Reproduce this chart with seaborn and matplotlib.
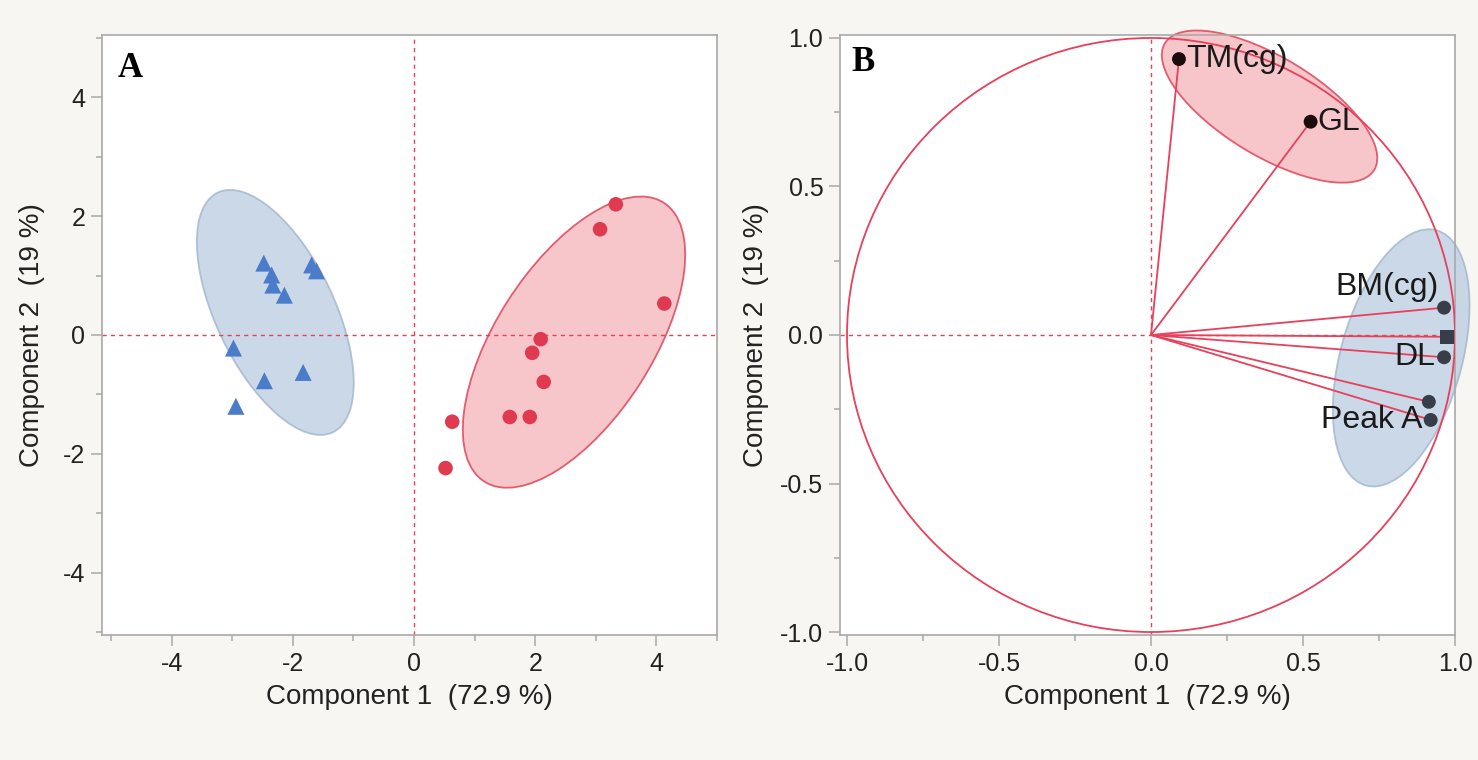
import numpy as np
import pandas as pd
import matplotlib
matplotlib.use('Agg')
import matplotlib.pyplot as plt
import seaborn as sns
from matplotlib.patches import Ellipse, Circle
from matplotlib.ticker import MultipleLocator, FormatStrFormatter

# score plot (panel A)
blue_c1 = [-2.48, -2.35, -2.33, -2.14, -1.69, -1.61, -2.98, -2.47, -1.83, -2.94]
blue_c2 = [1.21, 1.01, 0.84, 0.67, 1.18, 1.08, -0.22, -0.77, -0.63, -1.20]
red_c1 = [3.33, 3.07, 4.13, 2.09, 1.95, 2.14, 1.58, 1.91, 0.63, 0.52]
red_c2 = [2.20, 1.78, 0.53, -0.07, -0.30, -0.79, -1.38, -1.38, -1.46, -2.24]

# loading plot (panel B)
load_names = ['TM(cg)', 'GL', 'BM(cg)', 'sq', 'DL', 'pk2', 'Peak A']
load_labels = ['TM(cg)', 'GL', 'BM(cg)', '', 'DL', '', 'Peak A']
load_c1 = [0.092, 0.525, 0.964, 0.975, 0.964, 0.914, 0.92]
load_c2 = [0.929, 0.718, 0.092, -0.006, -0.075, -0.225, -0.286]
load_group = ['red', 'red', 'blue', 'blue', 'blue', 'blue', 'blue']
load_marker = ['o', 'o', 'o', 's', 'o', 'o', 'o']

# density ellipses: (center x, center y, width, height, angle)
ell_a_blue = (-2.29, 0.38, 4.46, 1.96, -65)
ell_a_red = (2.64, -0.12, 5.55, 2.59, 58)
ell_b_red = (0.39, 0.769, 0.81, 0.33, -32)
ell_b_blue = (0.823, -0.077, 0.89, 0.40, 75)

RED = '#e8405a'
BLUE_PT = '#4a7cc9'
RED_PT = '#df3a50'
BLUE_FILL = '#b9cbe0'
BLUE_EDGE = '#9db2cc'
RED_FILL = '#f4b3ba'
RED_EDGE = '#dc3046'
SPINE = '#a9a9a9'
TXT = '#222222'

sns.set_style('ticks')
plt.rcParams['font.family'] = ['Liberation Sans', 'DejaVu Sans']
plt.rcParams['axes.unicode_minus'] = False

fig = plt.figure(figsize=(14.78, 7.6), dpi=100, facecolor='#f7f6f2')
ax1 = fig.add_axes([102 / 1478, 125 / 760, 615 / 1478, 600 / 760])
ax2 = fig.add_axes([840 / 1478, 125 / 760, 615 / 1478, 600 / 760])


def add_ellipse(ax, p, fc, ec):
    cx, cy, w, h, ang = p
    ax.add_patch(Ellipse((cx, cy), w, h, angle=ang, facecolor=fc, edgecolor=ec,
                         alpha=0.75, lw=1.3, zorder=1, clip_on=False))


def style_axes(ax, major, minor, ypad=8):
    ax.set_facecolor('white')
    for sp in ax.spines.values():
        sp.set_color(SPINE)
        sp.set_linewidth(1.2)
    ax.xaxis.set_major_locator(MultipleLocator(major))
    ax.xaxis.set_minor_locator(MultipleLocator(minor))
    ax.yaxis.set_major_locator(MultipleLocator(major))
    ax.yaxis.set_minor_locator(MultipleLocator(minor))
    ax.tick_params(which='major', length=8, width=1.1, color=SPINE,
                   labelsize=18, labelcolor=TXT, pad=4)
    ax.tick_params(which='minor', length=4, width=1.1, color=SPINE)
    ax.axhline(0, color=RED, lw=1, dashes=(3, 3), zorder=2)
    ax.axvline(0, color=RED, lw=1, dashes=(3, 3), zorder=2)
    ax.set_xlabel('Component 1  (72.9 %)', fontsize=20, color=TXT, labelpad=6)
    ax.set_ylabel('Component 2  (19 %)', fontsize=20, color=TXT, labelpad=ypad)


# ---- panel A
scores = pd.DataFrame({
    'c1': blue_c1 + red_c1,
    'c2': blue_c2 + red_c2,
    'group': ['blue'] * len(blue_c1) + ['red'] * len(red_c1),
})
add_ellipse(ax1, ell_a_blue, BLUE_FILL, BLUE_EDGE)
add_ellipse(ax1, ell_a_red, RED_FILL, RED_EDGE)
sns.scatterplot(data=scores[scores.group == 'blue'], x='c1', y='c2', ax=ax1,
                marker='^', s=150, color=BLUE_PT, edgecolor='none', zorder=4)
sns.scatterplot(data=scores[scores.group == 'red'], x='c1', y='c2', ax=ax1,
                marker='o', s=110, color=RED_PT, edgecolor='none', zorder=4)
ax1.set_xlim(-5.15, 5.0)
ax1.set_ylim(-5.05, 5.05)
style_axes(ax1, 2, 1, ypad=13)
ax1.text(0.026, 0.972, 'A', transform=ax1.transAxes, va='top', ha='left',
         fontsize=25, fontweight='bold', family=['Liberation Serif'], color='black')

# ---- panel B
loads = pd.DataFrame({'name': load_names, 'label': load_labels, 'c1': load_c1,
                      'c2': load_c2, 'group': load_group, 'marker': load_marker})
add_ellipse(ax2, ell_b_red, RED_FILL, RED_EDGE)
add_ellipse(ax2, ell_b_blue, BLUE_FILL, BLUE_EDGE)
ax2.add_patch(Circle((0, 0), 1.0, facecolor='none', edgecolor=RED, lw=1.3, zorder=3))
for _, r in loads.iterrows():
    ax2.plot([0, r.c1], [0, r.c2], color=RED, lw=1.3, zorder=3)
sns.scatterplot(data=loads, x='c1', y='c2', hue='group', style='marker',
                markers={'o': 'o', 's': 's'}, palette={'red': '#1c0b0b', 'blue': '#373d49'},
                s=100, edgecolor='none', legend=False, ax=ax2, zorder=5, clip_on=False)

offsets = {'TM(cg)': (5, 0, 'left', 'center'), 'GL': (5, 0, 'left', 'center'),
           'BM(cg)': (-4, 4, 'right', 'bottom'), 'DL': (-6, 0, 'right', 'center'),
           'Peak A': (-6, 0, 'right', 'center')}
for _, r in loads.iterrows():
    if r.label:
        dx, dy, ha, va = offsets[r.label]
        ax2.annotate(r.label, (r.c1, r.c2), xytext=(dx, dy), textcoords='offset points',
                     ha=ha, va=va, fontsize=23, color='#1a1a1a', zorder=6)

ax2.set_xlim(-1.023, 1.0)
ax2.set_ylim(-1.01, 1.01)
style_axes(ax2, 0.5, 0.25)
ax2.xaxis.set_major_formatter(FormatStrFormatter('%.1f'))
ax2.yaxis.set_major_formatter(FormatStrFormatter('%.1f'))
ax2.text(0.019, 0.982, 'B', transform=ax2.transAxes, va='top', ha='left',
         fontsize=25, fontweight='bold', family=['Liberation Serif'], color='black')

# red tick at zero on x axes, continuing the dashed line
for ax in (ax1, ax2):
    for t in ax.xaxis.get_major_ticks():
        if abs(t.get_loc()) < 1e-9:
            t.tick1line.set_color(RED)

fig.savefig('out.png', dpi=100, facecolor=fig.get_facecolor())
